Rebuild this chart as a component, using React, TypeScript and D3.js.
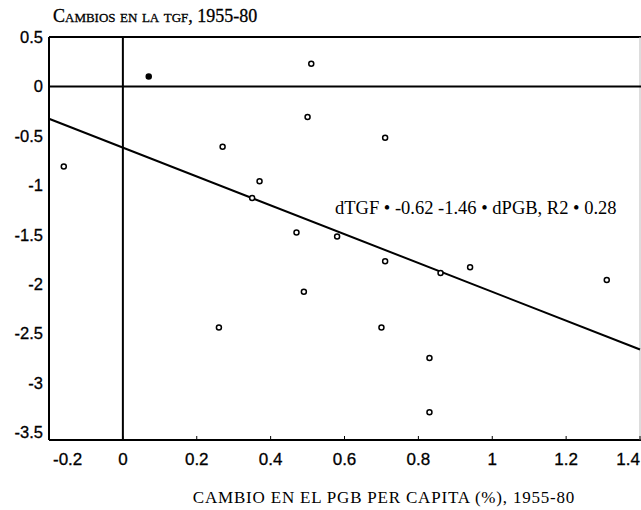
import React from "react";
import * as d3 from "d3";

// cambio en el PGB per capita (%) vs cambio en la TGF, 1955-80
const pgbChange = [0.07, 0.51, 0.5, -0.16, 0.27, 0.37, 0.35, 0.47, 0.49, 0.71, 0.58, 0.71, 0.86, 0.94, 1.31, 0.26, 0.7, 0.83, 0.83];
const tgfChange = [0.1, 0.23, -0.31, -0.81, -0.61, -0.96, -1.13, -1.48, -2.08, -0.52, -1.52, -1.77, -1.89, -1.83, -1.96, -2.44, -2.44, -2.75, -3.3];
const filled = [true, false, false, false, false, false, false, false, false, false, false, false, false, false, false, false, false, false, false];

const xTicks = [-0.2, 0, 0.2, 0.4, 0.6, 0.8, 1, 1.2, 1.4];
const yTicks = [0.5, 0, -0.5, -1, -1.5, -2, -2.5, -3, -3.5];

const intercept = -0.62;
const slope = -1.46;

const W = 641;
const H = 510;
const left = 49;
const right = 640;
const top = 37;
const bottom = 440;

const App = () => {
  const x = d3.scaleLinear().domain([-0.2, 1.4]).range([left, right]);
  const y = d3.scaleLinear().domain([-3.58, 0.5]).range([bottom, top]);

  const fitLine = d3
    .line<number>()
    .x((d) => x(d))
    .y((d) => y(intercept + slope * d));

  const labelFont = "'Liberation Sans', Arial, sans-serif";
  const serif = "'Liberation Serif', 'DejaVu Serif', serif";

  return (
    <svg width={W} height={H} style={{ position: "absolute", left: 0, top: 0, background: "#fff" }}>
      <text x={53} y={22} fontFamily={serif} fontSize={18} stroke="#000" strokeWidth={0.3} style={{ fontVariant: "small-caps" }}>
        Cambios en la tgf, 1955-80
      </text>

      {/* frame */}
      <line x1={left} x2={right + 1} y1={top} y2={top} stroke="#000" strokeWidth={2} />
      <line x1={left} x2={left} y1={top} y2={bottom} stroke="#000" strokeWidth={2} />
      <line x1={left} x2={right + 1} y1={bottom} y2={bottom} stroke="#000" strokeWidth={2} />
      <line x1={right} x2={right} y1={top} y2={bottom} stroke="#bbb" strokeWidth={1} />

      {/* zero lines */}
      <line x1={left} x2={right + 1} y1={y(0)} y2={y(0)} stroke="#000" strokeWidth={2} />
      <line x1={x(0)} x2={x(0)} y1={top} y2={bottom} stroke="#000" strokeWidth={2} />

      {/* regression line */}
      <path d={fitLine([-0.2, 1.4]) || ""} fill="none" stroke="#000" strokeWidth={2} />

      {/* ticks */}
      {xTicks.map((t, i) => (
        <g key={"x" + t}>
          <line x1={x(t)} x2={x(t)} y1={bottom} y2={bottom - 4} stroke="#000" strokeWidth={1} />
          <text
            x={i === 0 ? x(t) + 4 : i === xTicks.length - 1 ? right : x(t)}
            y={465}
            textAnchor={i === 0 ? "start" : i === xTicks.length - 1 ? "end" : "middle"}
            fontFamily={labelFont}
            fontSize={17}
            stroke="#000"
            strokeWidth={0.3}
          >
            {String(t)}
          </text>
        </g>
      ))}
      {yTicks.map((t) => (
        <text
          key={"y" + t}
          x={43}
          y={y(t) + 6}
          textAnchor="end"
          fontFamily={labelFont}
          fontSize={16.5}
          stroke="#000"
          strokeWidth={0.3}
        >
          {String(t)}
        </text>
      ))}

      {/* points */}
      {pgbChange.map((v, i) => (
        <circle
          key={i}
          cx={x(v)}
          cy={y(tgfChange[i])}
          r={2.5}
          fill={filled[i] ? "#000" : "#fff"}
          stroke="#000"
          strokeWidth={1.5}
        />
      ))}

      <text x={335} y={214} fontFamily={serif} fontSize={18.5}>
        dTGF • -0.62 -1.46 • dPGB, R2 • 0.28
      </text>

      <text x={384} y={503} textAnchor="middle" fontFamily={serif} fontSize={17} letterSpacing={0.8}>
        CAMBIO EN EL PGB PER CAPITA (%), 1955-80
      </text>
    </svg>
  );
};

export default App;
